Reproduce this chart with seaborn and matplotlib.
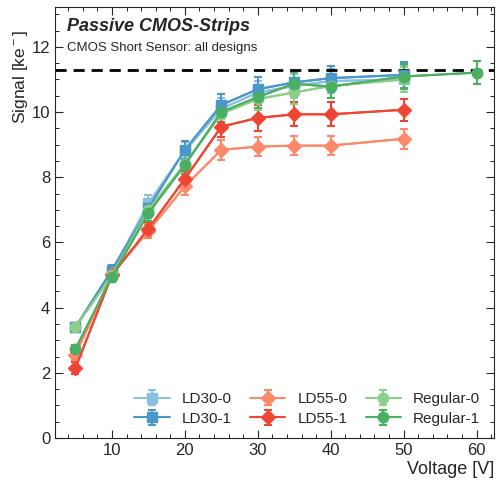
import matplotlib
matplotlib.use("Agg")
import matplotlib.pyplot as plt
from matplotlib.ticker import MultipleLocator
import seaborn as sns
import pandas as pd

voltage = [5, 10, 15, 20, 25, 30, 35, 40, 50]
voltage_reg1 = [5, 10, 15, 20, 25, 30, 35, 40, 50, 60]

ld30_0 = [3.40, 5.10, 7.20, 8.80, 10.10, 10.60, 10.80, 10.95, 11.00]
ld30_0_err = [0.12, 0.15, 0.25, 0.28, 0.32, 0.35, 0.36, 0.36, 0.40]
ld30_1 = [3.40, 5.15, 7.05, 8.84, 10.22, 10.70, 10.91, 11.04, 11.14]
ld30_1_err = [0.12, 0.15, 0.25, 0.28, 0.32, 0.36, 0.36, 0.36, 0.40]
ld55_0 = [2.55, 5.03, 6.35, 7.72, 8.84, 8.94, 8.97, 8.97, 9.18]
ld55_0_err = [0.15, 0.15, 0.22, 0.25, 0.30, 0.29, 0.29, 0.30, 0.30]
ld55_1 = [2.15, 5.00, 6.42, 7.95, 9.55, 9.82, 9.93, 9.93, 10.07]
ld55_1_err = [0.18, 0.15, 0.22, 0.25, 0.32, 0.40, 0.37, 0.37, 0.34]
reg_0 = [3.40, 5.00, 7.00, 8.40, 9.95, 10.40, 10.60, 10.80, 11.00]
reg_0_err = [0.12, 0.15, 0.24, 0.27, 0.32, 0.34, 0.35, 0.36, 0.38]
reg_1 = [2.73, 4.95, 6.90, 8.38, 10.00, 10.46, 10.87, 10.78, 11.09, 11.21]
reg_1_err = [0.12, 0.15, 0.24, 0.27, 0.32, 0.35, 0.36, 0.36, 0.38, 0.36]

labels = ["LD30-0", "LD30-1", "LD55-0", "LD55-1", "Regular-0", "Regular-1"]
reference_level = 11.3

sns.set_theme(style="ticks")
plt.rcParams["font.family"] = ["Liberation Sans", "DejaVu Sans"]
plt.rcParams["mathtext.fontset"] = "custom"
plt.rcParams["mathtext.rm"] = "Liberation Sans"
plt.rcParams["mathtext.it"] = "Liberation Sans:italic"

colors = ["#8dc0de", "#4a97c9", "#fc8a6a", "#ef4533", "#8bcf89", "#4aaf61"]
markers = ["s", "s", "D", "D", "o", "o"]

series = [
    (voltage, ld30_0, ld30_0_err),
    (voltage, ld30_1, ld30_1_err),
    (voltage, ld55_0, ld55_0_err),
    (voltage, ld55_1, ld55_1_err),
    (voltage, reg_0, reg_0_err),
    (voltage_reg1, reg_1, reg_1_err),
]

fig = plt.figure(figsize=(4.96, 4.82), dpi=100)
ax = fig.add_axes([0.111, 0.0913, 0.885, 0.894])

for (x, y, e), lab, c, m in zip(series, labels, colors, markers):
    df = pd.DataFrame({"x": x, "y": y})
    sns.lineplot(data=df, x="x", y="y", ax=ax, color=c, lw=1.5, legend=False)
    ax.errorbar(x, y, yerr=e, color=c, marker=m, markersize=7.5 if m != "D" else 7,
                lw=1.5, elinewidth=1.5, capsize=3, capthick=1.5, label=lab)

ax.axhline(reference_level, color="black", lw=2, ls=(0, (4, 2.5)))

ax.set_xlim(2.2, 62.4)
ax.set_ylim(0, 13.22)
ax.xaxis.set_major_locator(MultipleLocator(10))
ax.xaxis.set_minor_locator(MultipleLocator(2))
ax.yaxis.set_major_locator(MultipleLocator(2))
ax.yaxis.set_minor_locator(MultipleLocator(0.5))
ax.tick_params(which="both", direction="in", top=True, right=True, labelsize=12)
ax.tick_params(which="major", length=6, width=0.8)
ax.tick_params(which="minor", length=3, width=0.7)
for sp in ax.spines.values():
    sp.set_linewidth(0.8)

ax.set_xlabel("Voltage [V]", fontsize=13, loc="right", labelpad=2)
ax.set_ylabel("Signal [ke$^-$]", fontsize=12.5, loc="top")
ax.yaxis.set_label_coords(-0.058, 0.945)

ax.text(0.027, 0.975, "Passive CMOS-Strips", transform=ax.transAxes,
        fontsize=13, fontweight="bold", fontstyle="italic", va="top", ha="left")
ax.text(0.027, 0.918, "CMOS Short Sensor: all designs", transform=ax.transAxes,
        fontsize=9.5, va="top", ha="left")

ax.legend(ncol=3, frameon=False, loc="lower right", fontsize=11,
          bbox_to_anchor=(1.0, -0.003), columnspacing=1.2, handlelength=2.3,
          labelspacing=0.35)

fig.savefig("out.png", dpi=100)
